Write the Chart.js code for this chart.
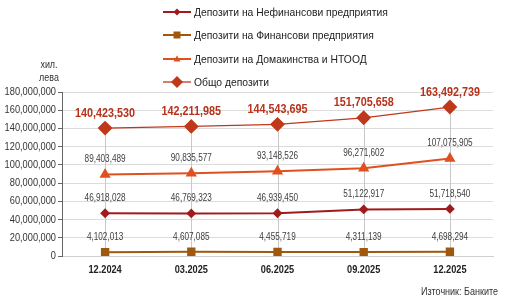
<!DOCTYPE html>
<html>
<head>
<meta charset="utf-8">
<script src="https://cdn.jsdelivr.net/npm/chart.js@4.4.1/dist/chart.umd.min.js"></script>
<style>
  body { margin: 0; background: #fff; }
  #wrap { position: relative; width: 506px; height: 299px; font-family: 'Liberation Sans', Arial, sans-serif; }
  #legend { position: absolute; left: 163px; top: 0px; font-size: 11px; color: #222; }
  .row { height: 23.5px; display: flex; align-items: center; }
  .row svg { margin-right: 3px; }
  .row span { display: inline-block; transform: scaleX(0.94); transform-origin: left center; }
  #unit { position: absolute; left: 31px; top: 58px; width: 36px; text-align: center; font-size: 10.5px; line-height: 13px; color: #333; transform: scaleX(0.85); }
  #src { position: absolute; right: 8px; top: 285px; font-size: 11px; color: #333; transform: scaleX(0.82); transform-origin: right center; }
</style>
</head>
<body>
<div id="wrap">
  <canvas id="myChart" width="506" height="299"></canvas>
  <div id="legend"></div>
  <div id="unit">хил.<br>лева</div>
  <div id="src">Източник: Банките</div>
</div>
<script>
const FONT = "'Liberation Sans', Arial, sans-serif";

const labels = ['12.2024', '03.2025', '06.2025', '09.2025', '12.2025'];
const nonFinancial = [46918028, 46769323, 46939450, 51122917, 51718540];
const financial = [4102013, 4607085, 4455719, 4311139, 4698294];
const households = [89403489, 90835577, 93148526, 96271602, 107075905];
const total = [140423530, 142211985, 144543695, 151705658, 163492739];

const seriesNames = ['Депозити на Нефинансови предприятия', 'Депозити на Финансови предприятия',
  'Депозити на Домакинства и НТООД', 'Общо депозити'];

const fmt = v => v.toLocaleString('en-US');

// narrow text: the original uses a condensed font, squeeze Liberation Sans instead
const narrowText = (ctx, text, x, y, sx) => {
  ctx.save();
  ctx.translate(x, y);
  ctx.scale(sx, 1);
  ctx.fillText(text, 0, 0);
  ctx.restore();
};

// vertical drop lines from the total point down to the axis
const dropLines = {
  id: 'dropLines',
  beforeDatasetsDraw(chart) {
    const ctx = chart.ctx;
    const bottom = chart.chartArea.bottom;
    ctx.save();
    ctx.strokeStyle = '#c8c8c8';
    ctx.lineWidth = 1;
    chart.getDatasetMeta(3).data.forEach(p => {
      ctx.beginPath();
      ctx.moveTo(Math.round(p.x) + 0.5, p.y);
      ctx.lineTo(Math.round(p.x) + 0.5, bottom);
      ctx.stroke();
    });
    ctx.restore();
  }
};

// axis tick labels, taken from the scales
const axisLabels = {
  id: 'axisLabels',
  afterDraw(chart) {
    const ctx = chart.ctx;
    const y = chart.scales.y, x = chart.scales.x;
    ctx.save();
    ctx.textBaseline = 'middle';
    ctx.textAlign = 'right';
    ctx.font = '11px ' + FONT;
    ctx.fillStyle = '#333';
    y.ticks.forEach(t => {
      narrowText(ctx, fmt(t.value), y.right - 6, y.getPixelForValue(t.value), 0.84);
    });
    ctx.textAlign = 'center';
    ctx.font = 'bold 11.5px ' + FONT;
    ctx.fillStyle = '#222';
    chart.data.labels.forEach((l, i) => {
      narrowText(ctx, l, x.getPixelForValue(i), x.top + 14, 0.8);
    });
    ctx.restore();
  }
};

const valueLabels = {
  id: 'valueLabels',
  afterDatasetsDraw(chart) {
    const ctx = chart.ctx;
    ctx.save();
    ctx.textAlign = 'center';
    ctx.textBaseline = 'middle';
    chart.data.datasets.forEach((ds, i) => {
      const meta = chart.getDatasetMeta(i);
      let sx;
      if (i === 3) {
        ctx.font = 'bold 13px ' + FONT;
        ctx.fillStyle = '#b8321a';
        sx = 0.83;
      } else {
        ctx.font = '10.5px ' + FONT;
        ctx.fillStyle = '#404040';
        sx = 0.78;
      }
      meta.data.forEach((p, j) => {
        narrowText(ctx, fmt(ds.data[j]), p.x, p.y - 15, sx);
      });
    });
    ctx.restore();
  }
};

const data = {
  labels: labels,
  datasets: [
    { label: seriesNames[0], data: nonFinancial, borderColor: '#a01c1c', backgroundColor: '#a01c1c',
      borderWidth: 2, pointStyle: 'rectRot', pointRadius: 3.5 },
    { label: seriesNames[1], data: financial, borderColor: '#a0580f', backgroundColor: '#a0580f',
      borderWidth: 2, pointStyle: 'rect', pointRadius: 4.5 },
    { label: seriesNames[2], data: households, borderColor: '#e0501e', backgroundColor: '#e0501e',
      borderWidth: 2, pointStyle: 'triangle', pointRadius: 4.5 },
    { label: seriesNames[3], data: total, borderColor: '#c0381a', backgroundColor: '#c0381a',
      borderWidth: 1.3, pointStyle: 'rectRot', pointRadius: 6.5 }
  ]
};

const config = {
  type: 'line',
  data: data,
  options: {
    responsive: false,
    animation: false,
    layout: { padding: { top: 92, right: 13, left: 0, bottom: 0 } },
    plugins: { legend: { display: false }, tooltip: { enabled: false } },
    scales: {
      x: {
        offset: true,
        grid: { display: false },
        border: { color: '#d0d0d0' },
        ticks: { display: false },
        afterFit: s => { s.height = 43; }
      },
      y: {
        min: 0, max: 180000000,
        ticks: { stepSize: 20000000, display: false },
        grid: { color: '#dcdcdc', tickLength: 4, tickColor: '#666' },
        border: { color: '#666' },
        afterFit: s => { s.width = 62; }
      }
    }
  },
  plugins: [dropLines, valueLabels, axisLabels]
};

const myChart = new Chart('myChart', config);

// legend as html
const marks = [
  '<path d="M14 2.5 L17.5 6 L14 9.5 L10.5 6 Z" fill="#a01c1c"/>',
  '<rect x="10.5" y="2.5" width="7" height="7" fill="#a0580f"/>',
  '<path d="M14 2.5 L17.5 8.5 L10.5 8.5 Z" fill="#e0501e"/>',
  '<path d="M14 0 L20 6 L14 12 L8 6 Z" fill="#c0381a"/>'
];
const legend = document.getElementById('legend');
data.datasets.forEach((ds, i) => {
  const row = document.createElement('div');
  row.className = 'row';
  row.innerHTML = '<svg width="28" height="12"><line x1="0" y1="6" x2="28" y2="6" stroke="' +
    ds.borderColor + '" stroke-width="' + (i === 3 ? 1.3 : 2) + '"/>' + marks[i] + '</svg><span>' + ds.label + '</span>';
  legend.appendChild(row);
});
</script>
</body>
</html>
